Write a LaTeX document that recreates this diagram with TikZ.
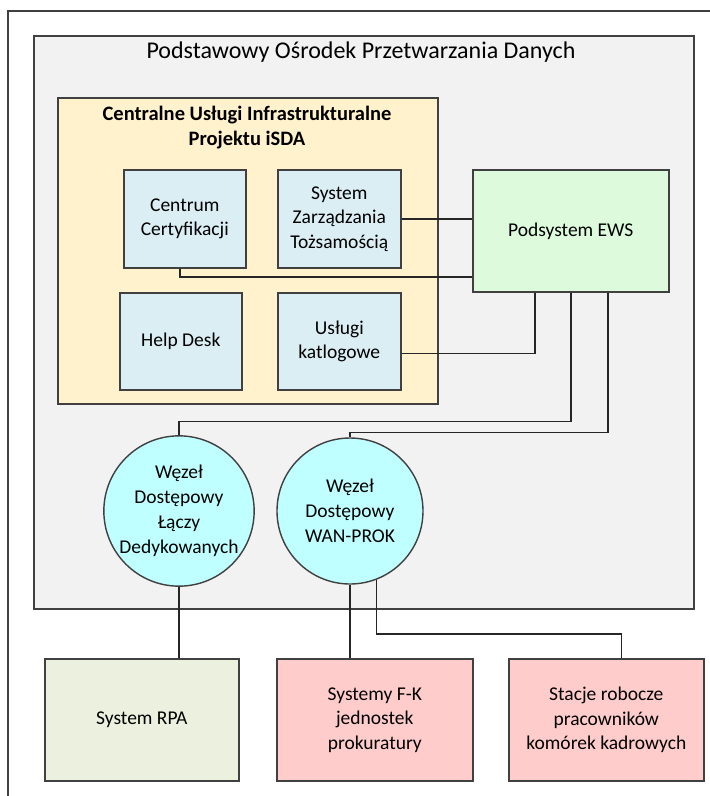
\documentclass[tikz,border=0pt]{standalone}
\usepackage{fontspec}
\setmainfont{Carlito}
\definecolor{frameline}{HTML}{404040}
\definecolor{centrebg}{HTML}{F2F2F2}
\definecolor{infrabg}{HTML}{FFF2CC}
\definecolor{servicebg}{HTML}{DAEEF3}
\definecolor{ewsbg}{HTML}{DDFADD}
\definecolor{nodebg}{HTML}{C0FFFF}
\definecolor{rpabg}{HTML}{EBF1DE}
\definecolor{extbg}{HTML}{FFCCCC}
\tikzset{
  boxbase/.style={draw=frameline, line width=1.6pt, anchor=north west, inner sep=3pt,
    align=center, font=\fontsize{19.5}{24.5}\selectfont},
  servicebox/.style={boxbase, fill=servicebg},
  accessnode/.style={circle, draw=frameline, line width=1.4pt, fill=nodebg,
    minimum size=146pt, inner sep=0pt, align=center, font=\fontsize{19.5}{25}\selectfont},
  link/.style={draw=black!85, line width=1.4pt},
}
\begin{document}
\begin{tikzpicture}[x=1pt, y=-1pt]
\useasboundingbox (0,0) rectangle (710,796);
% outer frame (continues beyond the page on the right and at the bottom)
\draw[frameline, line width=1.6pt] (8,800) -- (8,11) -- (714,11);

% data processing centre
\node[boxbase, fill=centrebg, minimum width=660pt, minimum height=573pt] (pod) at (33,35) {};
\node[font=\fontsize{24}{28}\selectfont] (podtitle) at (361,52) {Podstawowy Ośrodek Przetwarzania Danych};

% central infrastructure services
\node[boxbase, fill=infrabg, minimum width=380pt, minimum height=306pt] (cui) at (57,97) {};
\node[font=\bfseries\fontsize{20.5}{25}\selectfont, align=center] (cuititle) at (247,128)
  {Centralne Usługi Infrastrukturalne\\Projektu iSDA};

\node[servicebox, minimum width=122pt, minimum height=98pt] (cc) at (123,169) {Centrum\\Certyfikacji};
\node[servicebox, minimum width=123pt, minimum height=98pt] (szt) at (277,169) {System\\Zarządzania\\Tożsamością};
\node[servicebox, minimum width=122pt, minimum height=97pt] (hd) at (119,292) {Help Desk};
\node[servicebox, minimum width=123pt, minimum height=97pt] (uk) at (277,292) {Usługi\\katlogowe};

\node[boxbase, fill=ewsbg, minimum width=196pt, minimum height=122pt] (ews) at (472,169) {Podsystem EWS};

% access nodes
\node[accessnode] (c1) at (179,511) {Węzeł\\Dostępowy\\Łączy\\Dedykowanych};
\node[accessnode] (c2) at (350,511) {Węzeł\\Dostępowy\\WAN-PROK};

% external systems
\node[boxbase, fill=rpabg, minimum width=194pt, minimum height=122pt] (rpa) at (44,658) {System RPA};
\node[boxbase, fill=extbg, minimum width=196pt, minimum height=122pt] (fk) at (276,658) {Systemy F-K\\jednostek\\prokuratury};
\node[boxbase, fill=extbg, minimum width=195pt, minimum height=122pt] (sr) at (508,658) {Stacje robocze\\pracowników\\komórek kadrowych};

% connections
\draw[link] (szt.east) -- (szt.east -| ews.west);
\draw[link] ([xshift=-5pt]cc.south) |- ([yshift=-108pt]ews.north west);
\draw[link] ([yshift=-12pt]uk.east) -| ([xshift=-36pt]ews.south);
\draw[link] (ews.south) -- ++(0,129) -| (c1.north);
\draw[link] ([xshift=37pt]ews.south) -- ++(0,140) -| (c2.north);
\draw[link] (c1.south) -- (c1.south |- rpa.north);
\draw[link] (c2.south) -- (c2.south |- fk.north);
\draw[link] (c2.-69) -- ++(0,54) -| ([xshift=15pt]sr.north);
\end{tikzpicture}
\end{document}
